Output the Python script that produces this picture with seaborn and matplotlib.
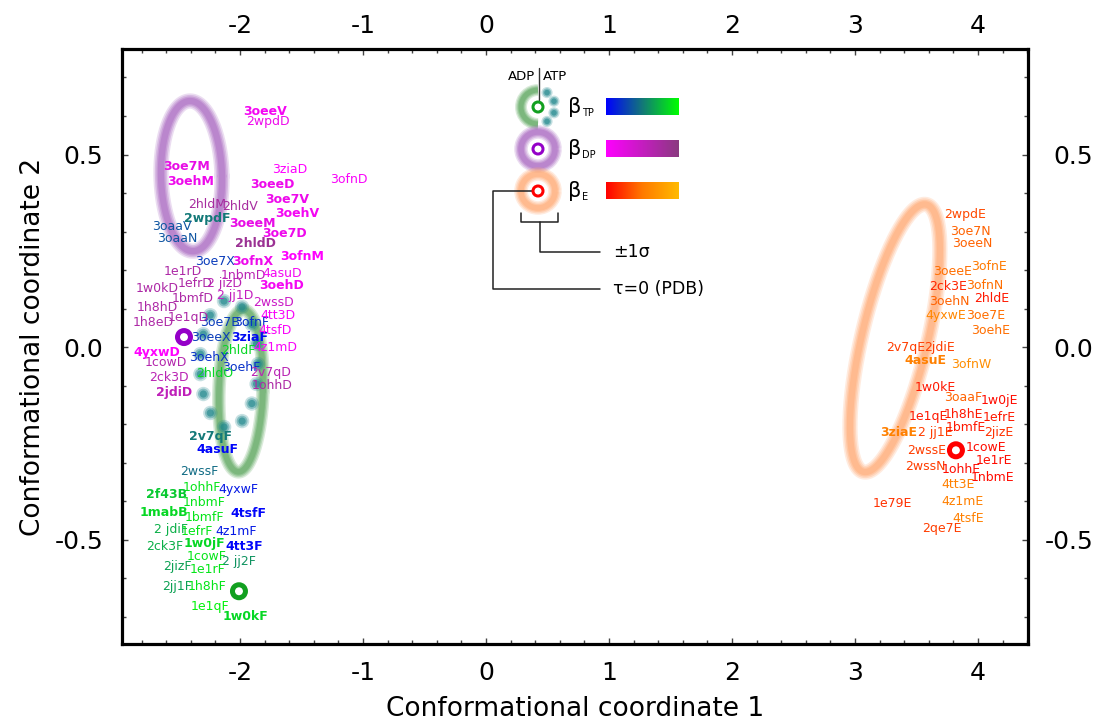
import numpy as np
import pandas as pd
import matplotlib
matplotlib.use("Agg")
import matplotlib.pyplot as plt
import seaborn as sns
from matplotlib.colors import LinearSegmentedColormap
from matplotlib.ticker import MultipleLocator, FormatStrFormatter, FixedLocator, NullLocator
from matplotlib.patches import Arc, Circle

sns.set_theme(style="white")
plt.rcParams['font.family'] = ['DejaVu Sans']
plt.rcParams['axes.unicode_minus'] = False
for key in ["text.color", "axes.labelcolor", "xtick.labelcolor", "ytick.labelcolor"]:
    plt.rcParams[key] = "black"

# ---------------- structures: beta_TP (ATP-bound subunits) ----------------
tp_names = ["2wpdF", "3oaaV", "3oaaN", "3oe7X", "3oe7B", "3ofnF", "3oeeX", "3ziaF",
            "2hldF", "3oehX", "3oehF", "2hldO", "2v7qF", "4asuF", "2wssF", "1ohhF",
            "4yxwF", "2f43B", "1nbmF", "1mabB", "1bmfF", "4tsfF", "2 jdiF", "1efrF",
            "4z1mF", "2ck3F", "1w0jF", "4tt3F", "1cowF", "2 jj2F", "2jizF", "1e1rF",
            "2jj1F", "1h8hF", "1e1qF", "1w0kF"]
tp_x = [-2.268, -2.553, -2.512, -2.203, -2.163, -1.902, -2.236, -1.919,
        -2.016, -2.252, -1.992, -2.203, -2.236, -2.187, -2.333, -2.309,
        -2.016, -2.593, -2.293, -2.618, -2.285, -1.935, -2.561, -2.350,
        -2.033, -2.610, -2.293, -1.967, -2.268, -2.008, -2.512, -2.260,
        -2.512, -2.268, -2.244, -1.959]
tp_y = [0.335, 0.312, 0.283, 0.221, 0.065, 0.065, 0.026, 0.026,
        -0.010, -0.026, -0.052, -0.068, -0.231, -0.265, -0.322, -0.364,
        -0.369, -0.382, -0.403, -0.429, -0.442, -0.431, -0.473, -0.478,
        -0.478, -0.517, -0.509, -0.517, -0.545, -0.558, -0.571, -0.577,
        -0.621, -0.621, -0.673, -0.699]
tp_shade = [0.5, 0.35, 0.35, 0.25, 0.25, 0.2, 0.25, 0.05,
            0.85, 0.2, 0.2, 0.85, 0.5, 0.02, 0.45, 0.9,
            0.1, 0.8, 0.9, 0.85, 0.9, 0.02, 0.7, 0.9,
            0.1, 0.7, 0.85, 0.02, 0.9, 0.6, 0.65, 0.9,
            0.65, 0.9, 0.95, 0.85]
tp_bold = ["2wpdF", "3ziaF", "2v7qF", "4asuF", "2f43B", "1mabB", "4tsfF", "1w0jF",
           "4tt3F", "1w0kF"]

# ---------------- structures: beta_DP (ADP-bound subunits) ----------------
dp_names = ["3oeeV", "2wpdD", "3oe7M", "3oehM", "3ziaD", "3ofnD", "3oeeD", "3oe7V",
            "2hldM", "2hldV", "3oehV", "3oeeM", "3oe7D", "2hldD", "3ofnX", "3ofnM",
            "1e1rD", "1nbmD", "4asuD", "1w0kD", "1efrD", "2 jizD", "3oehD", "1bmfD",
            "2 jj1D", "2wssD", "1h8hD", "1e1qD", "4tt3D", "1h8eD", "4tsfD", "4yxwD",
            "4z1mD", "1cowD", "2v7qD", "2ck3D", "1ohhD", "2jdiD"]
dp_x = [-1.797, -1.772, -2.431, -2.398, -1.593, -1.114, -1.740, -1.618,
        -2.268, -2.000, -1.537, -1.902, -1.634, -1.878, -1.894, -1.496,
        -2.463, -1.976, -1.659, -2.675, -2.366, -2.122, -1.659, -2.382,
        -2.041, -1.724, -2.675, -2.423, -1.691, -2.707, -1.715, -2.675,
        -1.715, -2.602, -1.748, -2.577, -1.740, -2.537]
dp_y = [0.613, 0.587, 0.468, 0.431, 0.462, 0.434, 0.421, 0.384,
        0.369, 0.364, 0.348, 0.322, 0.294, 0.270, 0.223, 0.234,
        0.197, 0.187, 0.190, 0.153, 0.164, 0.164, 0.161, 0.127,
        0.135, 0.117, 0.104, 0.078, 0.081, 0.065, 0.042, -0.013,
        0.000, -0.039, -0.065, -0.078, -0.101, -0.119]
dp_shade = [0.1, 0.15, 0.2, 0.15, 0.0, 0.05, 0.15, 0.15,
            0.75, 0.75, 0.1, 0.2, 0.15, 0.85, 0.15, 0.0,
            0.7, 0.6, 0.1, 0.7, 0.7, 0.6, 0.1, 0.7,
            0.5, 0.45, 0.7, 0.7, 0.05, 0.7, 0.05, 0.0,
            0.05, 0.65, 0.6, 0.6, 0.7, 0.55]
dp_bold = ["3oeeV", "3oe7M", "3oehM", "3oeeD", "3oe7V", "3oehV", "3oeeM", "3oe7D",
           "2hldD", "3ofnX", "3ofnM", "3oehD", "4yxwD", "2jdiD"]

# ---------------- structures: beta_E (empty subunits) ----------------
e_names = ["2wpdE", "3oe7N", "3oeeN", "3oeeE", "3ofnE", "2ck3E", "3ofnN", "3oehN",
           "2hldE", "4yxwE", "3oe7E", "3oehE", "2v7qE", "2jdiE", "4asuE", "3ofnW",
           "1w0kE", "3oaaF", "1w0jE", "1e1qE", "1h8hE", "1efrE", "3ziaE", "2 jj1E",
           "1bmfE", "2jizE", "2wssE", "1cowE", "1e1rE", "2wssN", "1ohhE", "1nbmE",
           "4tt3E", "1e79E", "4z1mE", "4tsfE", "2qe7E"]
e_x = [3.894, 3.935, 3.951, 3.797, 4.089, 3.756, 4.057, 3.764,
       4.114, 3.740, 4.065, 4.106, 3.415, 3.691, 3.577, 3.943,
       3.650, 3.878, 4.171, 3.593, 3.886, 4.171, 3.358, 3.650,
       3.902, 4.171, 3.585, 4.065, 4.130, 3.569, 3.862, 4.122,
       3.837, 3.301, 3.878, 3.919, 3.707]
e_y = [0.343, 0.301, 0.268, 0.197, 0.210, 0.158, 0.161, 0.119,
       0.127, 0.081, 0.081, 0.042, 0.000, 0.000, -0.036, -0.044,
       -0.104, -0.130, -0.140, -0.179, -0.174, -0.182, -0.221, -0.221,
       -0.210, -0.221, -0.268, -0.262, -0.294, -0.309, -0.317, -0.338,
       -0.358, -0.405, -0.400, -0.444, -0.470]
e_shade = [0.3, 0.4, 0.4, 0.45, 0.5, 0.15, 0.45, 0.4,
           0.1, 0.6, 0.45, 0.45, 0.25, 0.25, 0.55, 0.65,
           0.1, 0.4, 0.05, 0.1, 0.1, 0.1, 0.55, 0.25,
           0.1, 0.2, 0.25, 0.05, 0.05, 0.25, 0.05, 0.05,
           0.55, 0.2, 0.55, 0.55, 0.25]
e_bold = ["4asuE", "3ziaE"]

# ---------------- tau=0 reference structures (PDB) ----------------
pdb_group = ["DP", "TP", "E"]
pdb_x = [-2.455, -2.008, 3.821]
pdb_y = [0.026, -0.634, -0.268]

# ---------------- +-1 sigma ellipses: centre, two half-axis vectors ----------------
ell_dp = dict(c=(-2.394, 0.444), u=(0.248, 0.0), v=(-0.012, 0.195))
ell_tp = dict(c=(-1.992, -0.114), u=(0.179, 0.0), v=(0.02, 0.21))
ell_adp = dict(c=(-2.089, -0.044), u=(0.236, 0.0), v=(0.0, 0.166))
ell_e = dict(c=(3.325, 0.023), u=(0.261, -0.0197), v=(0.256, 0.347))

x_ticks = [-2, -1, 0, 1, 2, 3, 4]
y_ticks = [-0.5, 0.0, 0.5]

cmap_tp = LinearSegmentedColormap.from_list("tp", ["#0000ff", "#137878", "#00ff00"])
cmap_dp = LinearSegmentedColormap.from_list("dp", ["#ff00ff", "#8a3a80"])
cmap_e = LinearSegmentedColormap.from_list("e", ["#ff0000", "#ff7a00", "#ffbb00"])

ring_colors = {"DP": "#9400c8", "TP": "#12a020", "E": "#ff0000"}
col_ell_dp = "#a865c0"
col_ell_tp = "#58a45a"
col_ell_e = "#ffa870"
col_dots = "#1f878c"

PX = 0.72  # points per pixel at 100 dpi
GLOW = [(1.7, 0.22), (1.35, 0.28), (1.0, 0.35), (0.7, 0.4)]


def ellipse_xy(e, n=400):
    t = np.linspace(0, 2 * np.pi, n)
    x = e["c"][0] + e["u"][0] * np.cos(t) + e["v"][0] * np.sin(t)
    y = e["c"][1] + e["u"][1] * np.cos(t) + e["v"][1] * np.sin(t)
    return x, y


def glow_plot(ax, x, y, color, core_px, zorder=1):
    for scale, a in GLOW:
        ax.plot(x, y, color=color, lw=core_px * scale * PX, alpha=a,
                solid_capstyle="round", zorder=zorder)


def glow_dots(ax, x, y, color, d_px, zorder=2):
    for scale, a in [(1.6, 0.25), (1.2, 0.4), (0.8, 0.6)]:
        ax.scatter(x, y, s=(d_px * scale * PX) ** 2, color=color, alpha=a,
                   edgecolors="none", zorder=zorder)


fig = plt.figure(figsize=(10.99, 7.26), dpi=100)
ax = fig.add_axes([122 / 1099, 82 / 726, 906 / 1099, 595 / 726])
ax.set_xlim(-2.959, 4.407)
ax.set_ylim(-0.771, 0.774)

# sigma ellipses
glow_plot(ax, *ellipse_xy(ell_dp), col_ell_dp, 9)
glow_plot(ax, *ellipse_xy(ell_tp), col_ell_tp, 8)
glow_plot(ax, *ellipse_xy(ell_e), col_ell_e, 9)

# dotted ellipse, dots evenly spaced along its screen-space perimeter
ex, ey = ellipse_xy(ell_adp, 2000)
disp = ax.transData.transform(np.column_stack([ex, ey]))
seg = np.r_[0, np.cumsum(np.hypot(*np.diff(disp, axis=0).T))]
n_dots = int(seg[-1] // 20)
pick = np.searchsorted(seg, np.linspace(0, seg[-1], n_dots, endpoint=False))
glow_dots(ax, ex[pick], ey[pick], col_dots, 9)

# structure labels
groups = [
    (tp_names, tp_x, tp_y, tp_shade, tp_bold, cmap_tp),
    (dp_names, dp_x, dp_y, dp_shade, dp_bold, cmap_dp),
    (e_names, e_x, e_y, e_shade, e_bold, cmap_e),
]
for names, xs, ys, shades, bolds, cmap in groups:
    for nm, xx, yy, sh in zip(names, xs, ys, shades):
        ax.text(xx, yy, nm, color=cmap(sh), fontsize=9,
                fontweight="bold" if nm in bolds else "normal",
                ha="center", va="center", zorder=4)

# reference structures
pdb = pd.DataFrame({"x": pdb_x, "y": pdb_y, "group": pdb_group})
sns.scatterplot(data=pdb, x="x", y="y", hue="group", palette=ring_colors,
                s=(13 * PX) ** 2, marker="o", linewidth=5 * PX,
                legend=False, ax=ax, zorder=5)
ring_coll = ax.collections[-1]
ring_coll.set_facecolor("none")
ring_coll.set_edgecolor([ring_colors[g] for g in pdb_group])

# axes styling: marks on all four sides, labels bottom/left here
ax.xaxis.set_major_locator(FixedLocator(x_ticks))
ax.xaxis.set_minor_locator(MultipleLocator(0.2))
ax.yaxis.set_major_locator(FixedLocator(y_ticks))
ax.yaxis.set_minor_locator(MultipleLocator(0.1))
ax.yaxis.set_major_formatter(FormatStrFormatter("%.1f"))
ax.tick_params(which="both", direction="in", top=True, right=True, bottom=True, left=True,
               labeltop=False, labelright=False, labelsize=18, width=1.0, color="#444444")
ax.tick_params(axis="x", pad=12)
ax.tick_params(axis="y", pad=13.5)
ax.tick_params(which="major", length=4)
ax.tick_params(which="minor", length=3)
for sp in ax.spines.values():
    sp.set_linewidth(2.3)
    sp.set_color("black")
ax.set_xlabel("Conformational coordinate 1", fontsize=19, labelpad=8)
ax.set_ylabel("Conformational coordinate 2", fontsize=19, labelpad=6)

# labels on the top and right edges
top = ax.secondary_xaxis("top")
top.xaxis.set_major_locator(FixedLocator(x_ticks))
top.xaxis.set_minor_locator(NullLocator())
top.tick_params(length=0, labelsize=18, pad=8)
top.spines["top"].set_visible(False)

right = ax.secondary_yaxis("right")
right.yaxis.set_major_locator(FixedLocator(y_ticks))
right.yaxis.set_minor_locator(NullLocator())
right.yaxis.set_major_formatter(FormatStrFormatter("%.1f"))
right.tick_params(length=0, labelsize=18, pad=47)
right.spines["right"].set_visible(False)
for lab in right.get_yticklabels():
    lab.set_horizontalalignment("right")

# ---------------- key ----------------
lg = fig.add_axes([488 / 1099, (726 - 300) / 726, 220 / 1099, 240 / 726])
lg.axis("off")
lg.patch.set_alpha(0)


def glow_arc(axl, cx, cy, r, color, core_px, t1=0, t2=360):
    for scale, a in GLOW:
        axl.add_patch(Arc((cx, cy), 2 * r, 2 * r, theta1=t1, theta2=t2, color=color,
                          lw=core_px * scale * PX, alpha=a))


row_y = [0, 42, 84]
# beta_TP: ADP half solid, ATP half dotted
glow_arc(lg, 0, 0, 17, col_ell_tp, 7, 90, 270)
ang = np.deg2rad([58, 20, -20, -58])
glow_dots(lg, 17 * np.cos(ang), -17 * np.sin(ang), col_dots, 7)
glow_arc(lg, 0, 42, 17, col_ell_dp, 8)
glow_arc(lg, 0, 84, 17, col_ell_e, 8)
for yy, key in zip(row_y, ["TP", "DP", "E"]):
    lg.add_patch(Circle((0, yy), 5, fill=False, lw=3 * PX, color=ring_colors[key], zorder=5))

lg.plot([1, 1], [-39, -7], color="#333333", lw=1.0)
lg.text(-3, -31, "ADP", ha="right", va="center", fontsize=9.5)
lg.text(5, -31, "ATP", ha="left", va="center", fontsize=9.5)

grad = np.linspace(0, 1, 256)[None, :]
for yy, key, cmap in zip(row_y, ["TP", "DP", "E"], [cmap_tp, cmap_dp, cmap_e]):
    lg.text(30, yy, "β", fontsize=15, ha="left", va="center")
    lg.text(44, yy + 6, key, fontsize=7, ha="left", va="center")
    lg.imshow(grad, cmap=cmap, extent=(68, 141, yy + 8, yy - 9), aspect="auto",
              interpolation="bicubic")

# bracket for the sigma width
lc = dict(color="#222222", lw=1.1)
lg.plot([-17, -17, 20, 20], [106, 115, 115, 106], **lc)
lg.plot([2, 2, 62], [115, 145, 145], **lc)
lg.text(75, 145, "±1σ", fontsize=12.5, ha="left", va="center")
# pointer to the reference ring
lg.plot([-5, -45, -45, 62], [84, 84, 182, 182], **lc)
lg.text(75, 182, "τ=0 (PDB)", fontsize=12.5, ha="left", va="center")
lg.set_xlim(-50, 170)
lg.set_ylim(193, -47)

fig.savefig("out.png", dpi=100)
